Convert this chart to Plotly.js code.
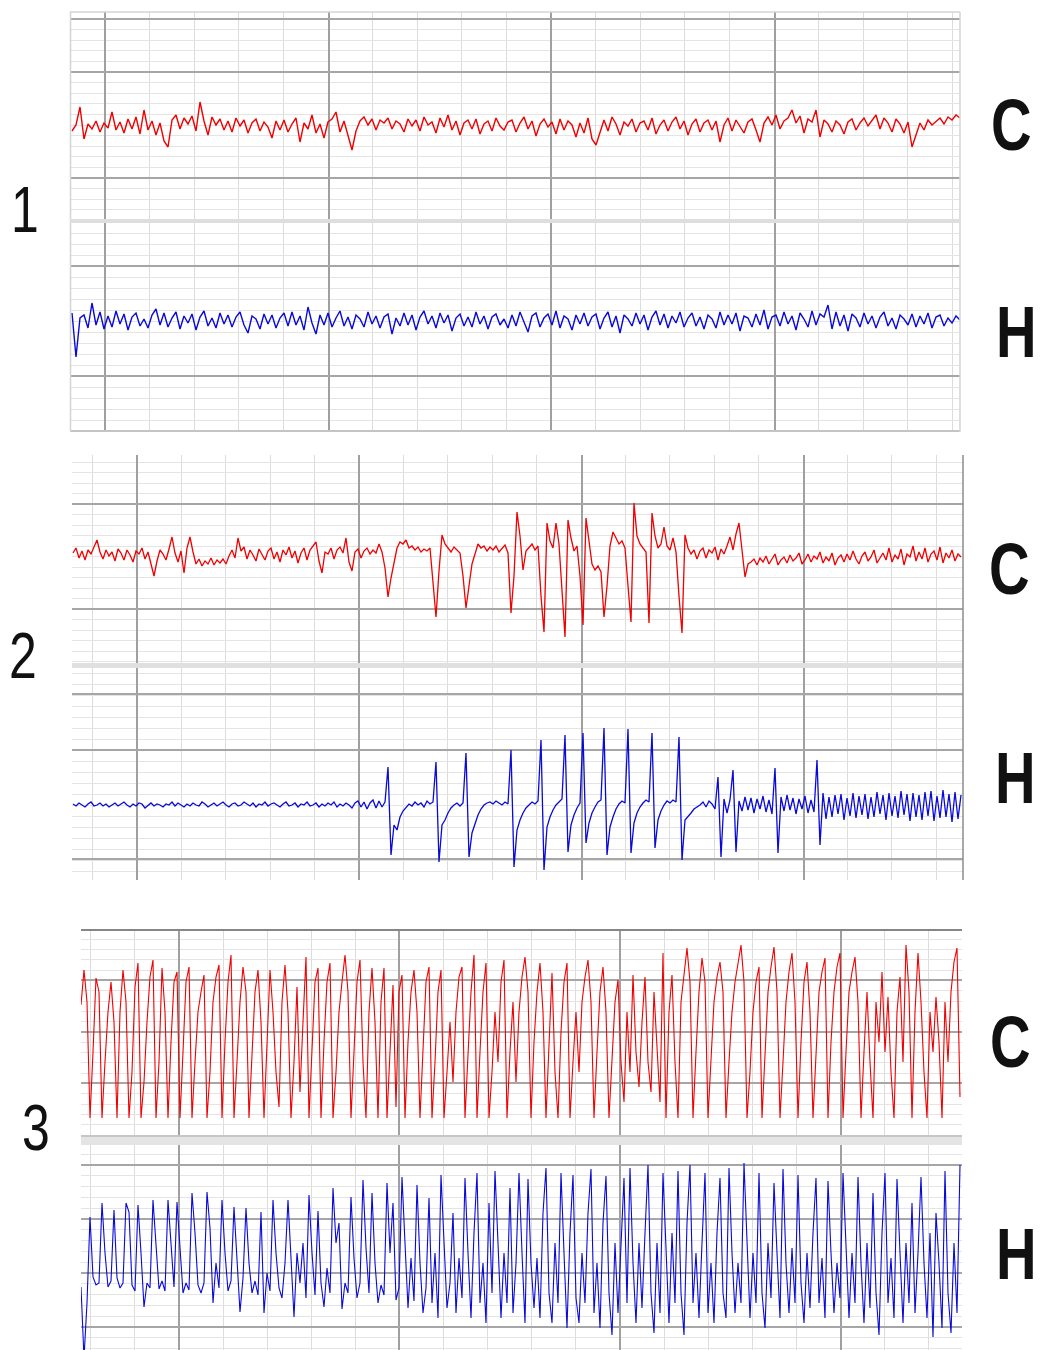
<!DOCTYPE html>
<html><head><meta charset="utf-8">
<script src="https://cdn.plot.ly/plotly-3.0.1.min.js"></script>
<style>html,body{margin:0;padding:0;background:#fff;}#chart{width:1040px;height:1350px;}
.annotation-text{transform-box:fill-box;transform-origin:center;transform:scaleX(0.78);}</style>
</head><body><div id="chart"></div>
<script>
// ---- data: amplitudes (relative to each channel's baseline, up = positive) ----
const c1 = [
-4,2,20,-12,3,-2,6,-5,4,-1,
15,-3,5,-6,8,-2,10,-7,17,-3,
6,-8,4,-14,-20,7,12,-2,9,3,
11,-4,25,6,-8,10,2,8,-3,6,
-5,9,1,7,-6,4,8,-4,5,0,
-11,6,-3,7,-5,3,9,-15,4,-2,
12,-6,3,-11,5,8,15,-5,6,-9,
-23,-4,6,10,2,8,-3,7,4,9,
-2,6,3,-5,8,1,7,-4,10,2,
5,-6,9,0,12,-3,6,-8,4,7,
-2,8,-7,3,6,-4,9,1,-3,5,
7,-5,4,10,-2,6,-9,3,8,0,
5,-7,8,-3,6,2,-10,4,-6,9,
-12,-18,-6,7,-4,10,3,-8,5,1,
8,-5,4,6,-3,9,-7,2,7,-4,
5,10,-2,6,-8,3,8,-5,4,7,
-3,6,-15,2,9,-4,7,1,-6,5,
8,-3,-15,4,10,2,12,-2,6,9,
17,4,11,-6,8,5,17,-10,7,3,
-5,6,2,-7,5,8,-3,4,9,1,
6,12,-2,9,4,-5,8,3,-6,5,
-20,-8,4,-3,7,2,6,9,3,10,
7,12,9];
const h1 = [
8,-36,3,6,-7,18,-4,9,-8,5,
-6,10,-3,7,-9,4,8,-5,2,-7,
6,12,-4,8,-6,3,9,-8,5,-2,
7,-9,4,10,-5,3,-7,8,-3,6,
-6,4,9,-4,-12,5,2,-8,7,-3,
6,-7,3,8,-5,9,-4,5,-9,14,
-2,-13,6,-4,8,-6,3,10,-5,4,
-8,6,2,-6,9,-3,5,-7,4,7,
-13,3,-5,8,-4,6,-9,4,10,-3,
5,-7,8,-2,6,-10,3,7,-5,4,
-6,9,-3,5,-8,4,7,-4,2,-7,
6,-5,9,-2,-11,5,8,-6,3,7,
-4,10,-7,5,2,-9,6,-3,8,-5,
4,7,-8,3,9,-6,5,-12,6,2,
-5,8,-3,6,-9,4,10,-4,7,-7,
5,-2,9,-6,3,8,-5,4,-8,6,
2,-7,9,-4,6,-3,8,-10,5,3,
-6,7,-4,11,-8,4,6,-5,9,-3,
5,-9,8,2,-6,10,-4,7,4,16,
-8,9,-5,6,-10,7,3,-6,8,-3,
5,-7,4,9,-5,3,-8,6,2,-4,
7,-6,5,-3,8,-7,4,6,-5,3,
-2,5,1];
const c2 = [
3,8,-2,5,-4,6,2,9,16,4,
-3,6,0,4,-5,7,3,-4,6,1,
-6,5,2,8,-3,4,-9,-20,-5,6,
2,-4,7,19,3,-6,5,-17,8,19,
4,-8,-3,-10,-5,-8,-2,-9,-4,-7,
-3,-8,0,6,-2,18,5,9,-3,6,
1,-5,7,2,-4,5,8,-3,4,-6,
6,1,9,-2,5,-7,3,8,-4,6,
10,14,-5,-17,4,2,8,-3,6,9,
3,18,-6,-15,4,7,-2,5,8,2,
6,3,12,4,-12,-41,-22,-5,8,14,
12,16,8,10,6,9,4,7,5,8,
-25,-61,-15,21,12,8,4,9,6,3,
-20,-52,-30,-8,2,12,8,10,5,9,
6,10,4,8,11,3,-57,-20,44,20,
-14,5,8,12,6,10,-40,-76,33,15,
8,33,12,-30,-81,36,18,5,10,-20,
-69,38,15,-8,-14,-10,-16,-61,-30,10,
24,18,12,15,8,-30,-66,53,20,12,
8,4,-67,43,20,8,12,29,10,6,
18,4,-40,-77,21,8,2,6,-3,5,
8,-2,6,3,9,-4,7,2,10,19,
6,22,33,8,-21,-8,-6,-3,-9,-2,
-6,0,-8,-3,2,-9,-4,-1,-7,1,
-5,-2,3,-8,-4,2,-6,0,-3,4,
-7,-1,-5,3,-9,-2,1,-6,2,-4,
5,-3,-8,0,4,-5,-1,6,-7,-2,
3,-4,8,-6,1,-3,7,-9,2,-1,
10,-5,4,-3,8,-6,2,5,-4,9,
-7,3,-2,6,-5,2,-1];
const h2 = [
1,-1,2,0,-2,1,3,-1,0,2,
-1,1,-2,0,2,-1,1,3,0,-2,
1,-1,2,1,-3,0,2,-1,1,0,
-2,1,0,3,-1,2,0,-2,1,-1,
2,0,-1,3,1,-2,0,2,-1,1,
3,0,-2,1,2,-1,0,3,1,-1,
2,-2,1,0,3,-1,1,2,0,-2,
1,3,-1,0,2,-2,1,0,3,-1,
0,2,-2,1,-1,2,0,3,-2,1,
-1,2,0,-3,2,4,-2,3,-4,2,
5,-3,4,-2,3,38,-50,-20,-25,-12,
-6,-2,1,-1,3,0,2,-2,4,1,
3,43,-57,-20,-15,-8,-3,0,2,-1,
2,52,-52,-28,-18,-10,-4,0,2,3,
1,4,2,0,3,1,55,-62,-25,-15,
-8,-3,0,3,1,4,65,-65,-22,-12,
-5,0,3,6,70,-47,-20,-10,-3,2,
72,-38,-18,-8,-2,3,5,77,-50,-22,
-12,-4,1,4,2,76,-48,-18,-8,-2,
2,5,3,72,-43,-15,-6,0,4,2,
5,3,68,-55,-15,-12,-8,-4,-2,0,
3,-2,4,1,-4,28,-52,6,-8,5,
35,-47,4,-6,8,-5,7,-8,6,-4,
9,-7,5,-9,37,-48,8,-6,10,-5,
7,-9,6,-4,9,-8,5,-7,45,-40,
12,-14,8,-12,10,-9,11,-15,7,-11,
12,-13,9,-10,11,-14,8,-12,13,-9,
10,-15,12,-11,9,-13,14,-10,11,-16,
12,-12,10,-15,13,-11,14,-16,9,-13,
15,-12,11,-17,13,-14,10];
const c3 = [
27,62,30,-86,-20,54,40,-86,-30,20,
50,10,-86,20,62,30,-86,-40,45,69,
-86,-50,10,55,72,-86,-30,64,20,-86,
-10,50,60,-86,-20,50,65,-86,-30,20,
40,57,-86,-40,30,55,67,-86,-10,50,
77,-86,-30,30,65,40,-86,-20,40,62,
10,-86,-20,62,20,-40,-75,30,67,20,
-86,-30,45,-60,10,75,-86,-20,50,64,
-86,-10,50,69,-86,-40,20,50,77,40,
-86,-20,50,72,-30,-86,20,64,10,-86,
30,64,-86,-20,47,-75,40,57,-86,-10,
40,62,20,-86,-20,50,65,-86,-30,40,
62,-86,-40,10,-50,20,55,65,-86,-30,
40,77,-86,-20,40,69,-86,-40,20,-30,
50,72,-86,-20,30,-50,20,55,75,40,
-86,-10,40,69,20,-86,-20,59,-40,-86,
0,50,69,-86,-30,20,-40,30,55,72,
30,-86,-20,40,65,20,-86,-20,30,52,
-30,-70,20,-40,57,-20,-55,10,55,-30,
-60,40,-10,-70,79,-86,20,57,-30,-86,
30,60,84,50,-86,-20,40,74,50,-86,
-20,30,55,70,40,-86,-30,20,50,70,
87,50,-86,-40,20,50,65,-86,-20,40,
65,85,40,-86,-30,30,60,79,30,-86,
-10,50,70,20,-86,-20,40,60,74,-86,
-10,40,65,79,-86,-20,40,60,75,30,
-86,-20,40,-30,-86,30,-10,60,-20,35,
-40,-86,20,55,-30,87,40,-86,20,79,
30,-40,-86,20,-20,35,-10,-86,30,-30,
40,70,84,-65];
const h3 = [
-14,-85,-30,56,-4,-12,-10,70,20,-14,
-8,63,-5,-15,-10,70,61,-12,-18,68,
20,-34,-10,-15,73,30,-16,-8,-18,73,
25,-14,71,30,-20,-10,-17,80,40,-12,
-20,-10,81,45,-30,10,-15,73,20,-18,
-8,66,15,-39,-5,65,10,-20,-8,-22,
61,-40,0,-18,73,20,-15,-25,10,73,
15,-44,20,-10,30,-25,78,20,-22,62,
-10,-34,5,-20,85,30,50,-36,-10,-20,
76,15,-25,-10,93,25,-20,80,10,-30,
-12,-22,90,20,70,-27,-15,96,30,-35,
15,-28,88,10,-40,-15,75,-30,20,-45,
98,25,-35,-10,60,-40,15,-25,95,20,
-45,40,100,-30,10,-50,70,-20,102,30,
-45,20,-30,85,-40,10,100,20,-50,94,
10,-35,15,-45,60,105,-20,-50,30,-30,
100,20,-55,40,98,-25,-50,20,-30,60,
104,-40,10,-55,50,97,-20,-62,30,-40,
20,95,-30,105,10,-50,30,-35,40,108,
-20,-60,30,-40,100,20,-50,40,-30,102,
-20,-62,50,108,-30,20,-45,30,100,-40,
10,-50,40,95,-20,-45,105,20,-40,10,
-30,110,30,-45,20,-30,100,-20,-55,30,
-25,90,20,-45,104,10,-40,25,-30,98,
-10,-50,20,-35,40,95,-30,15,-45,92,
20,-40,10,-25,100,25,-45,20,-30,96,
10,-50,30,-35,80,-20,-62,40,100,-30,
15,-45,94,20,-50,30,-30,70,-40,20,
96,10,-45,40,-64,60,10,-55,102,-20,
-60,30,-40,108];
const panelLabels = ['1','2','3'];
const channelLabels = ['C','H'];

// ---- layout helpers ----
const W = 1040, H = 1350;
const fx = x => x / W;
const fy = y => 1 - y / H;
const RED = '#f00000', BLUE = '#0a0ad8';
const HMAJ = '#a6a6a6', HMIN = '#e4e4e4', VMAJ = '#a0a0a0', VMIN = '#dcdcdc';

function xax(x0, x1, majors, dt) {
  return {domain: [fx(x0), fx(x1)], range: [x0, x1], tickmode: 'array', tickvals: majors,
    showticklabels: false, ticks: '', showgrid: true, gridcolor: VMAJ, gridwidth: 1.5,
    zeroline: false, showline: false, fixedrange: true,
    minor: {tickmode: 'linear', tick0: majors[0], dtick: dt, showgrid: true, gridcolor: VMIN, gridwidth: 1, ticks: ''}};
}
function yax(top, bottom, base, majors, dt, t0) {
  return {domain: [fy(bottom), fy(top)], range: [base - bottom, base - top], tickmode: 'array', tickvals: majors,
    showticklabels: false, ticks: '', showgrid: true, gridcolor: HMAJ, gridwidth: 1.5,
    zeroline: false, showline: false, fixedrange: true,
    minor: {tickmode: 'linear', tick0: t0, dtick: dt, showgrid: true, gridcolor: HMIN, gridwidth: 1, ticks: ''}};
}

const traces = [
  {y: c1, x0: 72, dx: 4, xaxis: 'x', yaxis: 'y', line: {color: RED, width: 1.4}},
  {y: h1, x0: 72, dx: 4, xaxis: 'x2', yaxis: 'y2', line: {color: BLUE, width: 1.4}},
  {y: c2, x0: 73, dx: 3, xaxis: 'x3', yaxis: 'y3', line: {color: RED, width: 1.3}},
  {y: h2, x0: 73, dx: 3, xaxis: 'x4', yaxis: 'y4', line: {color: BLUE, width: 1.3}},
  {y: c3, x0: 81, dx: 3, xaxis: 'x5', yaxis: 'y5', line: {color: RED, width: 1.1}},
  {y: h3, x0: 81, dx: 3, xaxis: 'x6', yaxis: 'y6', line: {color: BLUE, width: 1.1}}
].map(t => Object.assign({type: 'scatter', mode: 'lines', hoverinfo: 'skip', showlegend: false}, t));

const P1 = [105, 329, 551, 775], P2 = [137, 359, 582, 804], P3 = [179, 399, 620, 841];

const numFont = {family: 'Liberation Sans, Arial, sans-serif', size: 64, color: '#111'};
const chFont = {family: 'Liberation Sans, Arial, sans-serif', size: 72, color: '#111', weight: 'bold'};
function ann(text, x, y, font) {
  return {text: text, x: fx(x), y: fy(y), xref: 'paper', yref: 'paper', showarrow: false,
    xanchor: 'center', yanchor: 'middle', font: font};
}
function hline(x0, x1, y, color, w) {
  return {type: 'line', xref: 'paper', yref: 'paper', x0: fx(x0), x1: fx(x1), y0: fy(y), y1: fy(y), line: {color: color, width: w}, layer: 'above'};
}
function vline(x, y0, y1, color, w) {
  return {type: 'line', xref: 'paper', yref: 'paper', x0: fx(x), x1: fx(x), y0: fy(y0), y1: fy(y1), line: {color: color, width: w}, layer: 'above'};
}
function band(x0, x1, y0, y1, color) {
  return {type: 'rect', xref: 'paper', yref: 'paper', x0: fx(x0), x1: fx(x1), y0: fy(y1), y1: fy(y0), fillcolor: color, line: {width: 0}, layer: 'above'};
}

const layout = {
  width: W, height: H, margin: {l: 0, r: 0, t: 0, b: 0},
  paper_bgcolor: '#ffffff', plot_bgcolor: '#ffffff', showlegend: false, dragmode: false,
  xaxis: xax(70, 960, P1, 44.6), yaxis: yax(12, 222, 127, [108, 55, -51], 10.6, 55),
  xaxis2: xax(70, 960, P1, 44.6), yaxis2: yax(222, 432, 321, [55, -55], 11, 55),
  xaxis3: xax(72, 963, P2, 44.4), yaxis3: yax(455, 665, 556, [52, -53], 10.5, 52),
  xaxis4: xax(72, 963, P2, 44.4), yaxis4: yax(668, 880, 805, [111, 55, -54], 11, 55),
  xaxis5: xax(81, 962, P3, 44.1), yaxis5: yax(930, 1135, 1032, [52, 0, -51], 10.3, 0),
  xaxis6: xax(81, 962, P3, 44.1), yaxis6: yax(1137, 1350, 1273, [108, 54, 0, -54], 10.8, 0),
  shapes: [
    hline(70, 960, 12, '#d4d4d4', 1.5), hline(70, 960, 431, '#c4c4c4', 2),
    vline(70.5, 12, 432, '#d4d4d4', 1.5), vline(960, 12, 432, '#d4d4d4', 1.5),
    band(70, 960, 219, 223, '#dedede'),
    band(72, 963, 663, 668, '#e0e0e0'), vline(963, 455, 880, '#8c8c8c', 1.5),
    hline(81, 962, 930, '#868686', 2), band(81, 962, 1135, 1145, '#e4e4e4'), hline(81, 962, 1136, '#bdbdbd', 1.5)
  ],
  annotations: [
    ann(panelLabels[0], 25, 209, numFont), ann(panelLabels[1], 23, 655, numFont), ann(panelLabels[2], 36, 1127, numFont),
    ann(channelLabels[0], 1011, 125, chFont), ann(channelLabels[1], 1016, 332, chFont),
    ann(channelLabels[0], 1009, 569, chFont), ann(channelLabels[1], 1015, 778, chFont),
    ann(channelLabels[0], 1010, 1042, chFont), ann(channelLabels[1], 1016, 1254, chFont)
  ]
};

Plotly.newPlot('chart', traces, layout, {staticPlot: true, displayModeBar: false});
</script>
</body></html>
